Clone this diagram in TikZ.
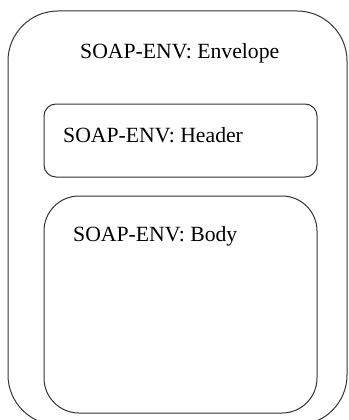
\documentclass[tikz,border=0pt]{standalone}
\usepackage{fontspec}
\setmainfont{Liberation Serif}
\usepackage{tikz}
\usetikzlibrary{positioning}
\tikzset{
    x=1pt,y=-1pt,
    part/.style ={rectangle, draw=black!80, line width=1pt, inner sep=0pt},
    title/.style = {inner sep=0pt, anchor=base west, font=\fontsize{21.7}{26}\selectfont}
}

\begin{document}
\begin{tikzpicture}
 \useasboundingbox (0,0) rectangle (348,420);
 \node[part, rounded corners=50pt, minimum width=339pt, minimum height=414pt] (env) at (177.5,218) {};
    \node[part, rounded corners=12pt, minimum width=273pt, minimum height=73pt] (hdr) at (180.5,140.5) {};
    \node[part, rounded corners=35pt, minimum width=273pt, minimum height=217pt] (body) at (180.5,304.5) {};

    \node[title] (envname) at (80,59) {SOAP-ENV: Envelope};
    \node[title] (hdrname) at (63,142) {SOAP-ENV: Header};
    \node[title] (bodyname) at (73,241) {SOAP-ENV: Body};
\end{tikzpicture}
\end{document}
